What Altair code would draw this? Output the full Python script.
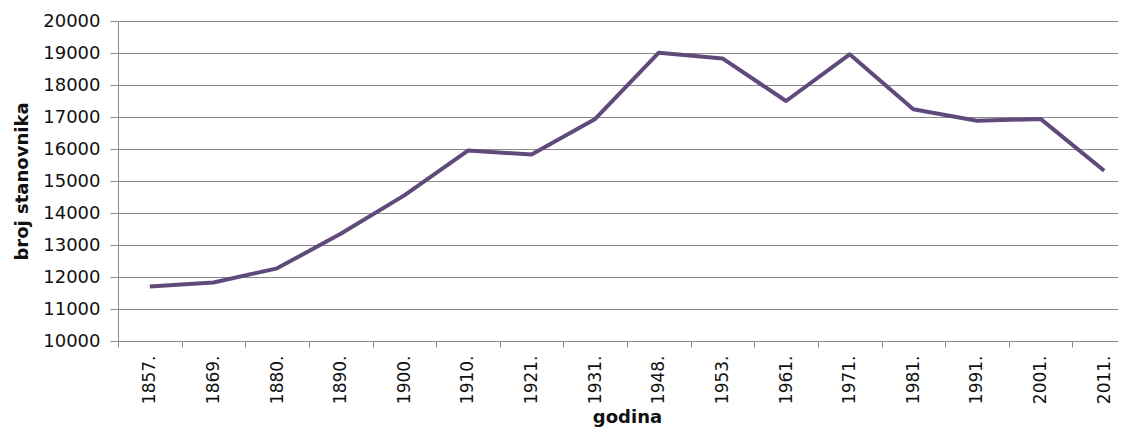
import altair as alt
import pandas as pd

years = ["1857.", "1869.", "1880.", "1890.", "1900.", "1910.", "1921.", "1931.",
         "1948.", "1953.", "1961.", "1971.", "1981.", "1991.", "2001.", "2011."]
population = [11700, 11830, 12270, 13350, 14550, 15950, 15830, 16940,
              19010, 18830, 17500, 18960, 17240, 16880, 16940, 15320]
y_ticks = list(range(10000, 20001, 1000))

df = pd.DataFrame({"godina": years, "broj": population})

FONT = "DejaVu Sans"
GRID = "#8a8a8a"

chart = alt.Chart(df).mark_line(color="#604A7B", strokeWidth=4, strokeJoin="round").encode(
    x=alt.X("godina:O", sort=years,
            scale=alt.Scale(type="band", paddingInner=0, paddingOuter=0, range=[0, 1018]),
            axis=alt.Axis(title="godina", labelAngle=-90, tickBand="extent", tickSize=6,
                          labelPadding=8, labelFont=FONT, labelFontSize=17, labelColor="#111",
                          grid=False, domainColor=GRID, tickColor=GRID,
                          titleFont=FONT, titleFontSize=18, titleFontWeight="bold",
                          titleColor="#111", titleBaseline="alphabetic",
                          titleX=509, titleY=81, titleAnchor="middle", titleAlign="center")),
    y=alt.Y("broj:Q",
            scale=alt.Scale(domain=[10000, 20000], nice=False, zero=False),
            axis=alt.Axis(title="broj stanovnika", values=y_ticks, format="d",
                          tickSize=8, labelPadding=10, labelFont=FONT, labelFontSize=18,
                          labelColor="#111", gridColor=GRID, gridWidth=1.2,
                          domainColor=GRID, tickColor=GRID,
                          titleFont=FONT, titleFontSize=18, titleFontWeight="bold",
                          titleColor="#111", titleAngle=270, titleBaseline="alphabetic",
                          titleAlign="center", titleX=-91, titleY=160)),
).properties(
    width=1000,
    height=320,
    autosize=alt.AutoSizeParams(type="none"),
    padding={"left": 110, "top": 13, "right": 0, "bottom": 88},
).configure_view(stroke=None).configure(background="white")

chart.save("out.html", embed_options={"renderer": "svg", "actions": False})
